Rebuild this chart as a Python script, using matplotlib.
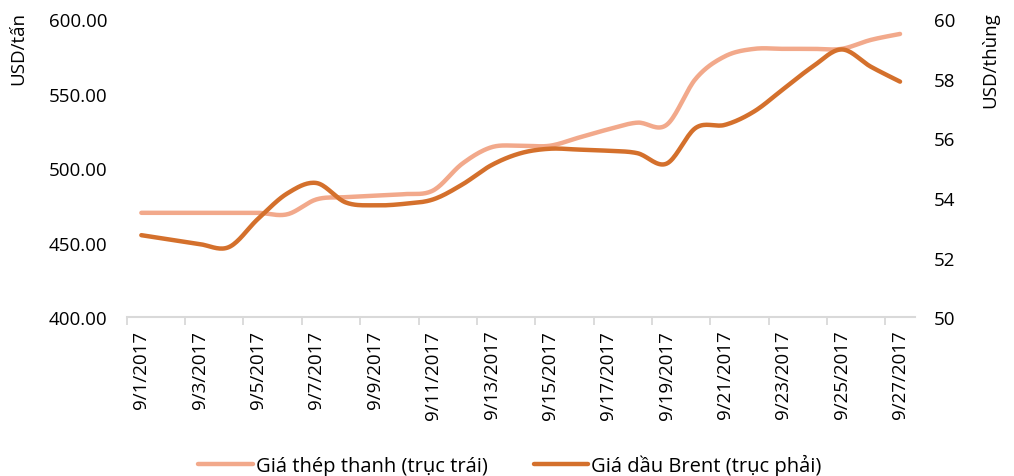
import numpy as np
import matplotlib
matplotlib.use("Agg")
import matplotlib.pyplot as plt
from matplotlib.ticker import FixedLocator, FixedFormatter

plt.rcParams["font.family"] = ["Open Sans", "DejaVu Sans"]

# Dữ liệu (ước lượng từ hình gốc)
dates = [f"9/{d}/2017" for d in range(1, 28)]
steel = [470, 470, 470, 470, 470, 469, 479, 480.5, 481.5, 482.5, 485, 503, 514,
         515, 515, 520.5, 526, 530.5, 529, 560, 575, 580, 580, 580, 580, 586, 590]
brent = [52.75, 52.6, 52.45, 52.35, 53.3, 54.15, 54.5, 53.85, 53.75, 53.8, 53.95,
         54.45, 55.1, 55.5, 55.65, 55.62, 55.58, 55.5, 55.15, 56.35, 56.45, 56.9,
         57.65, 58.4, 58.98, 58.4, 57.9]

STEEL_COLOR = "#F2A98B"
BRENT_COLOR = "#D4702C"
AXIS_GRAY = "#D9D9D9"


def smooth(y, n=20):
    """Đường cong mượt kiểu Excel (Catmull-Rom / Bezier)."""
    y = np.asarray(y, dtype=float)
    x = np.arange(len(y), dtype=float)
    xp = np.concatenate([[x[0]], x, [x[-1]]])
    yp = np.concatenate([[y[0]], y, [y[-1]]])
    xs, ys = [], []
    t = np.linspace(0, 1, n)
    for i in range(len(y) - 1):
        p0 = np.array([x[i], y[i]])
        p3 = np.array([x[i + 1], y[i + 1]])
        c1 = p0 + (np.array([xp[i + 2], yp[i + 2]]) - np.array([xp[i], yp[i]])) / 6
        c2 = p3 - (np.array([xp[i + 3], yp[i + 3]]) - np.array([xp[i + 1], yp[i + 1]])) / 6
        b = ((1 - t) ** 3)[:, None] * p0 + (3 * (1 - t) ** 2 * t)[:, None] * c1 \
            + (3 * (1 - t) * t ** 2)[:, None] * c2 + (t ** 3)[:, None] * p3
        xs.append(b[:, 0])
        ys.append(b[:, 1])
    return np.concatenate(xs), np.concatenate(ys)


fig = plt.figure(figsize=(10.14, 4.77), dpi=100)
ax = fig.add_axes([0.125, 0.333, 0.777, 0.625])
ax2 = ax.twinx()

sx, sy = smooth(steel)
bx, by = smooth(brent)
l1, = ax.plot(sx, sy, color=STEEL_COLOR, lw=3.2, solid_capstyle="round",
              label="Giá thép thanh (trục trái)")
l2, = ax2.plot(bx, by, color=BRENT_COLOR, lw=3.2, solid_capstyle="round",
               label="Giá dầu Brent (trục phải)")

n = len(dates)
ax.set_xlim(-0.5, n - 0.5)
ax.set_ylim(400, 600)
ax2.set_ylim(50, 60)

ax.set_yticks(np.arange(400, 601, 50))
ax.set_yticklabels([f"{v:.2f}" for v in np.arange(400, 601, 50)])
ax2.set_yticks(np.arange(50, 61, 2))

# Trục danh mục: vạch ở ranh giới, nhãn ở giữa
ax.xaxis.set_major_locator(FixedLocator(np.arange(-0.5, n - 1, 2)))
ax.xaxis.set_major_formatter(FixedFormatter([""] * 14))
ax.xaxis.set_minor_locator(FixedLocator(np.arange(0, n, 2)))
ax.xaxis.set_minor_formatter(FixedFormatter(dates[::2]))
ax.tick_params(axis="x", which="major", length=6, width=1.3, color=AXIS_GRAY)
ax.tick_params(axis="x", which="minor", length=0, pad=9, labelsize=13.5,
               rotation=90)

ax.tick_params(axis="y", length=0, pad=14, labelsize=13.5)
ax2.tick_params(axis="y", length=0, pad=14, labelsize=13.5)

for a in (ax, ax2):
    for s in ("top", "left", "right"):
        a.spines[s].set_visible(False)
ax2.spines["bottom"].set_visible(False)
ax.spines["bottom"].set_color(AXIS_GRAY)
ax.spines["bottom"].set_linewidth(1.5)

fig.text(0.018, 0.975, "USD/tấn", rotation=90, va="top", ha="center", fontsize=13.5)
fig.text(0.977, 0.975, "USD/thùng", rotation=90, va="top", ha="center", fontsize=13.5)

fig.legend(handles=[l1, l2], loc="center", bbox_to_anchor=(0.503, 0.024),
           ncol=2, frameon=False, fontsize=14.5, handlelength=2.7,
           handletextpad=0.15, columnspacing=2.3)

fig.savefig("out.png", dpi=100)
